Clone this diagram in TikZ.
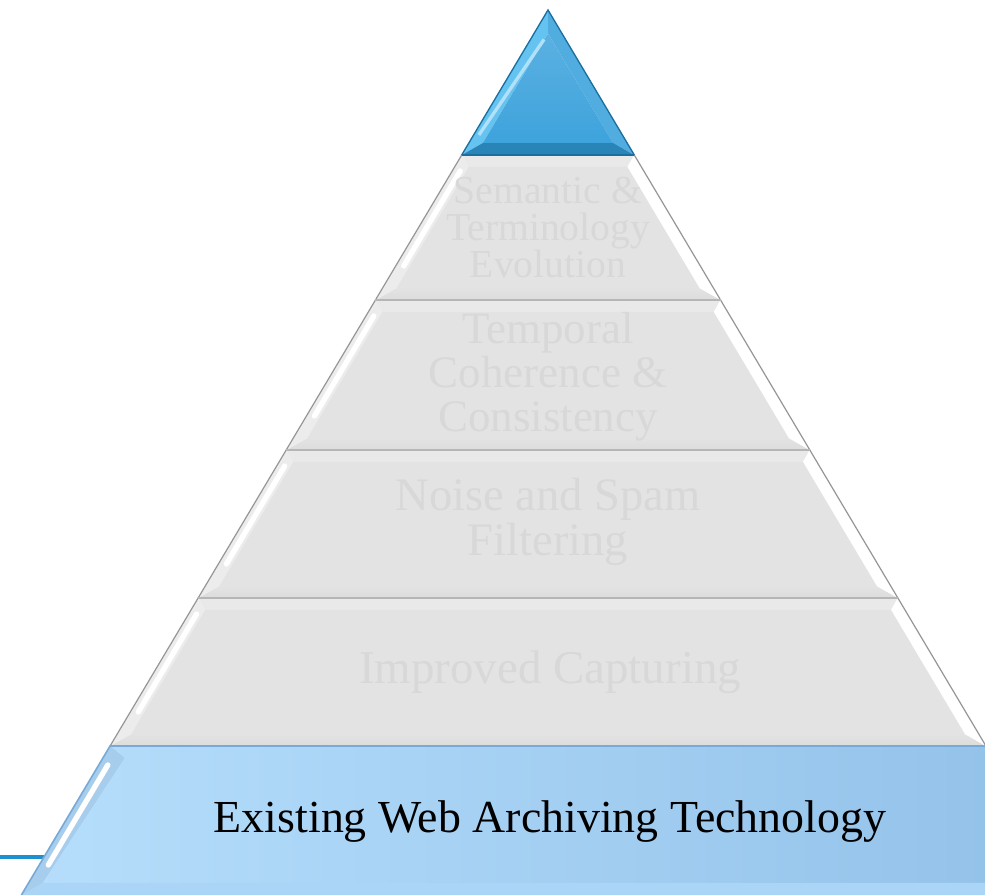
\documentclass[tikz,border=0pt]{standalone}
\usepackage{fontspec}
\setmainfont{Liberation Serif}
\usetikzlibrary{calc}
\definecolor{graymain}{RGB}{227,227,227}
\definecolor{graytop}{RGB}{233,233,233}
\definecolor{graybot}{RGB}{220,220,220}
\definecolor{grayedge}{RGB}{150,150,150}
\definecolor{graytxt}{RGB}{216,216,216}
\definecolor{bluetop}{RGB}{62,163,220}
\definecolor{bluetopdark}{RGB}{27,111,160}
\definecolor{bluetoplight}{RGB}{100,195,240}
\definecolor{basel}{RGB}{182,222,252}
\definecolor{baser}{RGB}{145,192,232}
\definecolor{baseedge}{RGB}{120,170,215}
\definecolor{stubblue}{RGB}{30,144,208}
\tikzset{
  layertxt/.style={text=graytxt,align=center,inner sep=0pt},
  edgeline/.style={draw=grayedge,line width=0.9},
  shine/.style={draw=white,line width=4,line cap=round},
  stub/.style={draw=stubblue,line width=3}
}

\begin{document}
\begin{tikzpicture}[x=0.75pt,y=0.75pt]
\useasboundingbox (0,0) rectangle (985,895);
\clip (0,0) rectangle (985,895);
\fill[white] (0,0) rectangle (985,895);
% stub line on the left
\coordinate (stubA) at (0,38);
\coordinate (stubB) at (46,38);
\draw[stub] (stubA) -- (stubB);
% gray layers
\foreach \t/\b in {740/595,595/445,445/297,297/149}{
  \pgfmathsetmacro\lt{548-0.595*(885-\t)}
  \pgfmathsetmacro\lb{548-0.595*(885-\b)}
  \pgfmathsetmacro\ti{\t-12}
  \pgfmathsetmacro\bi{\b+12}
  \pgfmathsetmacro\ilt{548-0.595*(885-\ti)+14}
  \pgfmathsetmacro\ilb{548-0.595*(885-\bi)+14}
  \pgfmathsetmacro\hst{\t-16}
  \pgfmathsetmacro\hsb{\b+34}
  \coordinate (oTL) at (\lt,\t);
  \coordinate (oTR) at ({1096-\lt},\t);
  \coordinate (oBR) at ({1096-\lb},\b);
  \coordinate (oBL) at (\lb,\b);
  \coordinate (iTL) at (\ilt,\ti);
  \coordinate (iTR) at ({1096-\ilt},\ti);
  \coordinate (iBR) at ({1096-\ilb},\bi);
  \coordinate (iBL) at (\ilb,\bi);
  \coordinate (hA) at ({548-0.595*(885-\hst)+8},\hst);
  \coordinate (hB) at ({548-0.595*(885-\hsb)+8},\hsb);
  \fill[graytop] (oTL) -- (oTR) -- (iTR) -- (iTL) -- cycle;
  \shade[top color=graymain,bottom color=graybot] (oBL) -- (oBR) -- (iBR) -- (iBL) -- cycle;
  \fill[white] (oTR) -- (oBR) -- (iBR) -- (iTR) -- cycle;
  \fill[gray!15] (oTL) -- (iTL) -- (iBL) -- (oBL) -- cycle;
  \draw[shine] (hA) -- (hB);
  \fill[graymain] (iTL) -- (iTR) -- (iBR) -- (iBL) -- cycle;
  \draw[edgeline] (oBL) -- (oTL) -- (oTR) -- (oBR);
  \draw[grayedge!70,line width=2] (oTL) -- (oTR);
}
% base layer
\coordinate (bTL) at (110.08,149);
\coordinate (bTR) at (985.92,149);
\coordinate (bBR) at (1074.6,0);
\coordinate (bBL) at (21.4,0);
\coordinate (biTL) at (124.6,137);
\coordinate (biTR) at (971.4,137);
\coordinate (biBR) at (1060,12);
\coordinate (biBL) at (42.5,12);
\coordinate (bhA) at (107.8,130);
\coordinate (bhB) at (48.3,30);
\shade[left color=basel,right color=baser] (bTL) -- (bTR) -- (bBR) -- (bBL) -- cycle;
\fill[basel!70!baser] (bBL) -- (bBR) -- (biBR) -- (biBL) -- cycle;
\fill[baser!80!white] (bTL) -- (biTL) -- (biBL) -- (bBL) -- cycle;
\draw[shine] (bhA) -- (bhB);
\draw[baseedge,line width=1.2] (bBL) -- (bTL) -- (bTR);
% top triangle
\coordinate (apex) at (548,885);
\coordinate (tBL) at (461.7,740);
\coordinate (tBR) at (634.3,740);
\coordinate (tiA) at (548,861.5);
\coordinate (tiBL) at (482.9,752);
\coordinate (tiBR) at (613.1,752);
\fill[bluetoplight] (apex) -- (tiA) -- (tiBL) -- (tBL) -- cycle;
\fill[bluetop!90!white] (apex) -- (tBR) -- (tiBR) -- (tiA) -- cycle;
\fill[bluetopdark!60!bluetop] (tBL) -- (tBR) -- (tiBR) -- (tiBL) -- cycle;
\shade[top color=bluetop!85!white,bottom color=bluetop] (tiA) -- (tiBR) -- (tiBL) -- cycle;
\draw[white!50!bluetoplight,line width=2.5] ($(tiA)+(-4,-6)$) -- ($(tiBL)+(-4,8)$);
\draw[bluetopdark,line width=1] (tBL) -- (apex) -- (tBR);
\draw[bluetopdark,line width=1.5] (tBL) -- (tBR);
% texts
\node[layertxt,font=\fontsize{29.7}{27.75}\selectfont] (tSemantic) at (548,667) {Semantic \&\\Terminology\\Evolution};
\node[layertxt,font=\fontsize{33.7}{33}\selectfont] (tTemporal) at (548,518) {Temporal\\Coherence \&\\Consistency};
\node[layertxt,font=\fontsize{34.9}{33.75}\selectfont] (tNoise) at (548,373) {Noise and Spam\\Filtering};
\node[layertxt,font=\fontsize{35.2}{35}\selectfont] (tCapture) at (550,223) {Improved Capturing};
\node[layertxt,text=black,font=\fontsize{34.4}{34}\selectfont] (tExisting) at (550,73) {Existing Web Archiving Technology};
\end{tikzpicture}
\end{document}
